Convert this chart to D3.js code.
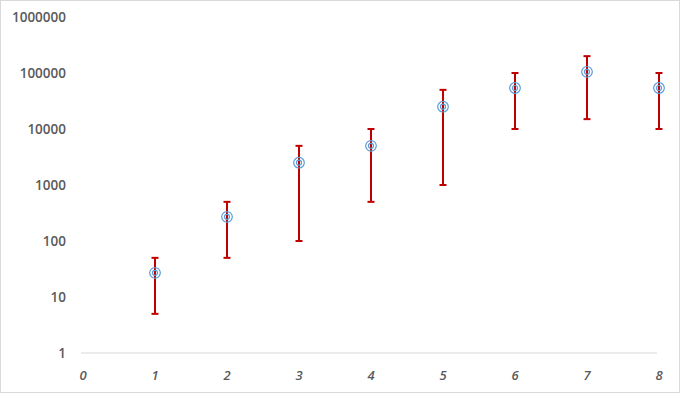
<!DOCTYPE html>
<html><head><meta charset="utf-8">
<script src="https://cdn.jsdelivr.net/npm/d3@7"></script>
<style>body{margin:0;background:#fff}svg{display:block}</style>
</head><body>
<script>
const xValues = [1, 2, 3, 4, 5, 6, 7, 8];
const yValues = [27, 270, 2500, 5000, 25000, 54000, 105000, 54000];
const errLow  = [5, 50, 100, 500, 1000, 10000, 15000, 10000];
const errHigh = [50, 500, 5000, 10000, 50000, 100000, 200000, 100000];
const xTicks = [0, 1, 2, 3, 4, 5, 6, 7, 8];
const yTicks = [1, 10, 100, 1000, 10000, 100000, 1000000];

const W = 680, H = 393;
const svg = d3.select("body").append("svg").attr("width", W).attr("height", H);
svg.append("rect").attr("x", 0.5).attr("y", 0.5).attr("width", W - 1).attr("height", H - 1)
  .attr("fill", "#fff").attr("stroke", "#d9d9d9");

const x = d3.scaleLinear().domain([0, 8]).range([83, 659]);
const y = d3.scaleLog().domain([1, 1000000]).range([353, 17]);

svg.append("line").attr("x1", 81).attr("x2", 657).attr("y1", y(1)).attr("y2", y(1))
  .attr("stroke", "#d9d9d9").attr("stroke-width", 1);

svg.append("g").selectAll("text").data(yTicks).join("text")
  .attr("x", 66).attr("y", d => y(d)).attr("dy", "0.35em").attr("text-anchor", "end")
  .attr("font-family", "'Open Sans', sans-serif").attr("font-size", 13.5).attr("font-weight", 600)
  .attr("fill", "#595959").text(d => d);

svg.append("g").selectAll("text").data(xTicks).join("text")
  .attr("x", d => x(d)).attr("y", 375).attr("dy", "0.35em").attr("text-anchor", "middle")
  .attr("font-family", "'Open Sans', sans-serif").attr("font-size", 13).attr("font-weight", 600).attr("font-style", "italic")
  .attr("fill", "#595959").text(d => d);

const data = xValues.map((v, i) => ({x: v, y: yValues[i], lo: errLow[i], hi: errHigh[i]}));
const g = svg.append("g");
const red = "#c00000";
data.forEach(d => {
  const cx = x(d.x);
  g.append("line").attr("x1", cx).attr("x2", cx).attr("y1", y(d.lo)).attr("y2", y(d.hi)).attr("stroke", red).attr("stroke-width", 2);
  [d.lo, d.hi].forEach(v => g.append("line").attr("x1", cx - 3.5).attr("x2", cx + 3.5).attr("y1", y(v)).attr("y2", y(v)).attr("stroke", red).attr("stroke-width", 2));
  g.append("circle").attr("cx", cx).attr("cy", y(d.y)).attr("r", 5.3).attr("fill", "none").attr("stroke", "#5b9bd5").attr("stroke-width", 1.2);
  g.append("circle").attr("cx", cx).attr("cy", y(d.y)).attr("r", 2.5).attr("fill", "none").attr("stroke", "#5b9bd5").attr("stroke-width", 1.2);
});
</script>
</body></html>
